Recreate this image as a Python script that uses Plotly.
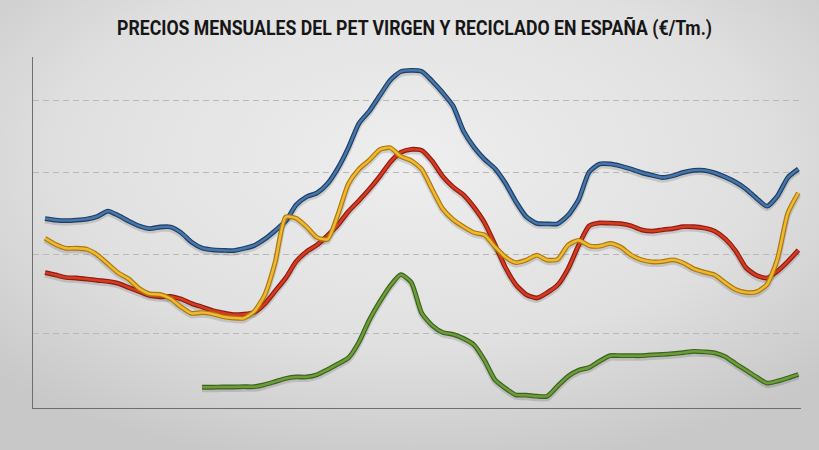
import base64
import plotly.graph_objects as go

# data (meses consecutivos, valores aproximados en €/Tm)
meses = list(range(73))

pet_virgen = [739, 733, 731, 733, 737, 747, 768, 751, 729, 710, 700, 706, 706, 684, 647,
              624, 617, 615, 614, 622, 634, 659, 692, 729, 792, 824, 839, 875, 936, 1016,
              1110, 1158, 1219, 1279, 1312, 1317, 1313, 1275, 1230, 1178, 1080, 1017, 970, 934, 877,
              805, 746, 720, 718, 719, 752, 813, 920, 952, 952, 944, 932, 918, 908, 899,
              906, 919, 927, 927, 917, 901, 881, 854, 818, 787, 827, 899, 932]

reciclado_a = [528, 519, 509, 507, 503, 498, 494, 486, 470, 454, 439, 434, 435, 425, 408,
               394, 380, 371, 364, 366, 373, 406, 456, 507, 571, 610, 636, 673, 714, 767,
               809, 854, 904, 959, 997, 1009, 1005, 963, 904, 862, 831, 783, 723, 638, 548,
               481, 442, 429, 450, 480, 544, 635, 710, 722, 721, 719, 711, 695, 690, 695,
               700, 707, 707, 702, 690, 660, 613, 547, 517, 507, 534, 572, 616]

reciclado_b = [662, 638, 623, 623, 619, 597, 562, 527, 503, 466, 445, 443, 426, 394, 369,
               372, 367, 356, 351, 350, 377, 441, 569, 745, 740, 707, 665, 658, 755, 875,
               932, 967, 1008, 1015, 981, 965, 931, 853, 777, 735, 707, 684, 675, 629, 589,
               567, 577, 596, 577, 580, 636, 654, 633, 631, 642, 628, 597, 578, 570, 571,
               578, 566, 543, 530, 519, 489, 462, 451, 453, 482, 581, 761, 839]

reciclado_c = [None] * 15 + [
    81, 81, 82, 82, 83, 83, 91, 103, 115, 121, 121, 130, 150, 172, 196,
    257, 344, 415, 477, 520, 490, 370, 322, 295, 287, 271, 246, 186, 110, 77,
    51, 50, 46, 46, 86, 124, 147, 158, 183, 204, 204, 204, 204, 207, 209,
    212, 216, 221, 219, 215, 200, 173, 147, 121, 97, 105, 117, 131]

titulo = "PRECIOS MENSUALES DEL PET VIRGEN Y RECICLADO EN ESPAÑA (€/Tm.)"
lineas_guia = [290, 600, 920, 1200]

series = [
    (pet_virgen, '#4676aa', '#1d3d63'),
    (reciclado_a, '#d63b22', '#8c1c0f'),
    (reciclado_b, '#f0b92f', '#a9780f'),
    (reciclado_c, '#6e9c36', '#3a6220'),
]

# fondo metalizado
svg = '''<svg xmlns="http://www.w3.org/2000/svg" width="819" height="450" preserveAspectRatio="none">
<defs><radialGradient id="g" cx="50%" cy="35%" r="70%">
<stop offset="0" stop-color="#eeeeee"/><stop offset="0.6" stop-color="#e0e0e0"/>
<stop offset="1" stop-color="#c8c8c8"/></radialGradient></defs>
<rect width="819" height="450" fill="url(#g)"/></svg>'''
fondo = "data:image/svg+xml;base64," + base64.b64encode(svg.encode()).decode()

fig = go.Figure()

# sombras (eje base, desplazado 2 px hacia abajo)
for vals, core, edge in series:
    fig.add_trace(go.Scatter(x=meses, y=vals, mode='lines', yaxis='y',
                             line=dict(color='rgba(0,0,0,0.13)', width=6, shape='spline', smoothing=0.6),
                             hoverinfo='skip'))

# lineas: borde oscuro + nucleo
for vals, core, edge in series:
    fig.add_trace(go.Scatter(x=meses, y=vals, mode='lines', yaxis='y2',
                             line=dict(color=edge, width=4.8, shape='spline', smoothing=0.6),
                             hoverinfo='skip'))
    fig.add_trace(go.Scatter(x=meses, y=vals, mode='lines', yaxis='y2',
                             line=dict(color=core, width=2.5, shape='spline', smoothing=0.6),
                             hoverinfo='skip'))

off = 8
fig.update_layout(
    width=819, height=450,
    margin=dict(l=33, r=18, t=57, b=42),
    paper_bgcolor='#dddddd',
    plot_bgcolor='rgba(255,255,255,0.28)',
    showlegend=False,
    title=dict(text=titulo, x=414.5 / 819, xref='container', xanchor='center',
               y=1 - 28 / 450, yref='container', yanchor='middle',
               font=dict(family='Roboto, DejaVu Sans, sans-serif', weight=700,
                         size=19.5, color='#161616')),
    xaxis=dict(range=[-1.15, 72.25], showgrid=False, zeroline=False, showticklabels=False,
               ticks='', showline=True, linecolor='#6e6e6e', linewidth=1.2),
    yaxis=dict(range=[off, 1369 + off], tickvals=[v + off for v in lineas_guia],
               showgrid=True, gridcolor='#b8b8b8', griddash='6px,4px', gridwidth=1,
               zeroline=False, showticklabels=False, ticks='',
               showline=True, linecolor='#6e6e6e', linewidth=1.2),
    yaxis2=dict(range=[0, 1369], overlaying='y', visible=False, showgrid=False),
    images=[dict(source=fondo, xref='paper', yref='paper',
                 x=-33 / 768, y=1 + 57 / 351, sizex=819 / 768, sizey=450 / 351,
                 sizing='stretch', xanchor='left', yanchor='top', layer='below')],
)

# sin margen de pagina y titulo condensado al ancho del original
post = """
document.body.style.margin = '0';
var t = document.querySelector('.gtitle');
if (t) { t.setAttribute('textLength', '595'); t.setAttribute('lengthAdjust', 'spacingAndGlyphs'); }
"""

fig.write_html("out.html", post_script=post, config={'displayModeBar': False})
